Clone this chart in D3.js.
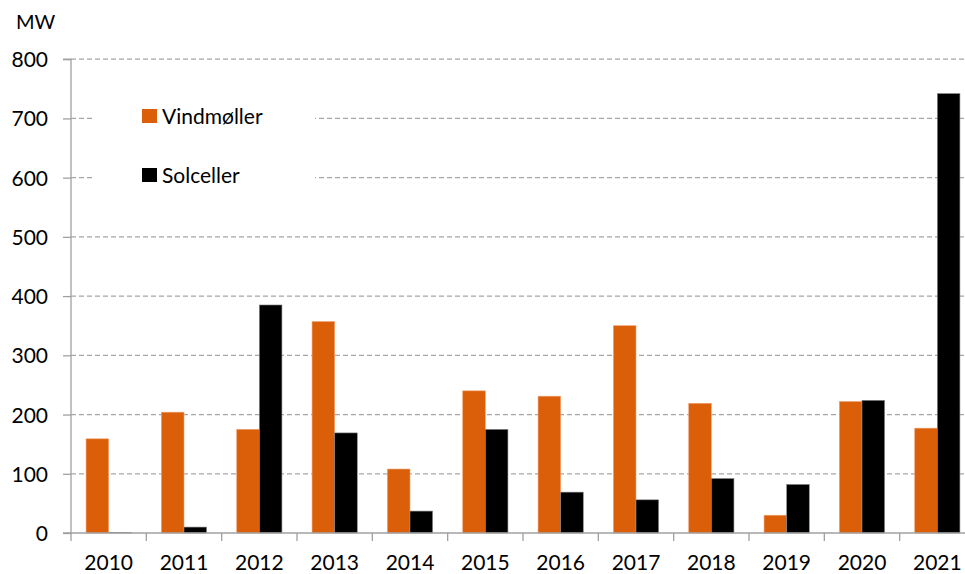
<!DOCTYPE html>
<html><head><meta charset="utf-8">
<script src="https://cdn.jsdelivr.net/npm/d3@7"></script>
<style>body{margin:0;background:#fff}svg{display:block}text{font-family:Lato,"Open Sans",sans-serif;fill:#000}</style>
</head><body><svg id="c" width="965" height="574"></svg>
<script>
const years = ["2010","2011","2012","2013","2014","2015","2016","2017","2018","2019","2020","2021"];
const vind = [159,204,175,357,108,240,231,350,219,30,222,177];
const sol = [1,10,385,169,37,175,69,56,92,82,224,742];
const seriesNames = ["Vindmøller","Solceller"];
const yTicks = [0,100,200,300,400,500,600,700,800];
const colors = ["#DA5F08","#000000"];

const svg = d3.select("#c");
const x0 = 71, x1 = 975, yTop = 59.2, yBot = 533;
const x = d3.scaleBand().domain(years).range([x0,x1]).paddingInner(0).paddingOuter(0);
const y = d3.scaleLinear().domain([0,800]).range([yBot,yTop]);
const bw = x.bandwidth()*0.3;
const fs = 21;

// gridlines
svg.append("g").selectAll("line").data(yTicks.filter(d=>d>0)).join("line")
  .attr("x1",x0).attr("x2",x1).attr("y1",d=>y(d)).attr("y2",d=>y(d))
  .attr("stroke","#a6a6a6").attr("stroke-width",1.3).attr("stroke-dasharray","5,3");

// legend background
svg.append("rect").attr("x",92).attr("y",92).attr("width",223).attr("height",112).attr("fill","#fff");

// bars
const data = [vind, sol];
data.forEach((vals,si)=>{
  svg.append("g").selectAll("rect").data(years).join("rect")
    .attr("x",(d,i)=>x(d)+x.bandwidth()/2 - bw + si*bw)
    .attr("width",bw)
    .attr("y",(d,i)=>y(vals[i]))
    .attr("height",(d,i)=>yBot-y(vals[i]))
    .attr("fill",colors[si])
    .attr("stroke",si===0?"#f0a070":"#888")
    .attr("stroke-width",0.6);
});

// y axis
const yAxis = d3.axisLeft(y).tickValues(yTicks).tickSize(8).tickPadding(14);
const gy = svg.append("g").attr("transform",`translate(${x0},0)`).call(yAxis);
gy.selectAll("path,line").attr("stroke","#a0a0a0").attr("stroke-width",1.3);
gy.select(".domain").attr("d",`M-8,${yTop}H0V${yBot}H-8`);
gy.selectAll("text").attr("font-size",fs).attr("font-family","Lato,sans-serif").attr("fill","#000").attr("x",-23).attr("dy","0.36em");

// x axis
const xAxis = d3.axisBottom(x).tickSize(0).tickPadding(0);
const gx = svg.append("g").attr("transform",`translate(0,${yBot})`).call(xAxis);
gx.select(".domain").attr("stroke","#a0a0a0").attr("stroke-width",1.3).attr("d",`M${x0},0H${x1}`);
gx.selectAll("text").attr("font-size",fs).attr("font-family","Lato,sans-serif").attr("fill","#000").attr("y",37).attr("dy",0);
gx.append("g").selectAll("line").data(years.concat(["end"])).join("line")
  .attr("x1",(d,i)=>x0+i*x.bandwidth()).attr("x2",(d,i)=>x0+i*x.bandwidth())
  .attr("y1",0).attr("y2",8).attr("stroke","#a0a0a0").attr("stroke-width",1.3);

// MW label
svg.append("text").attr("x",16).attr("y",29).attr("font-size",20).text("MW");

// legend
const leg = svg.append("g");
seriesNames.forEach((n,i)=>{
  const yy = 109 + i*59;
  leg.append("rect").attr("x",142).attr("y",yy).attr("width",15).attr("height",14).attr("fill",colors[i]);
  leg.append("text").attr("x",162).attr("y",yy+7).attr("dy","0.36em").attr("font-size",fs).text(n);
});
</script></body></html>
